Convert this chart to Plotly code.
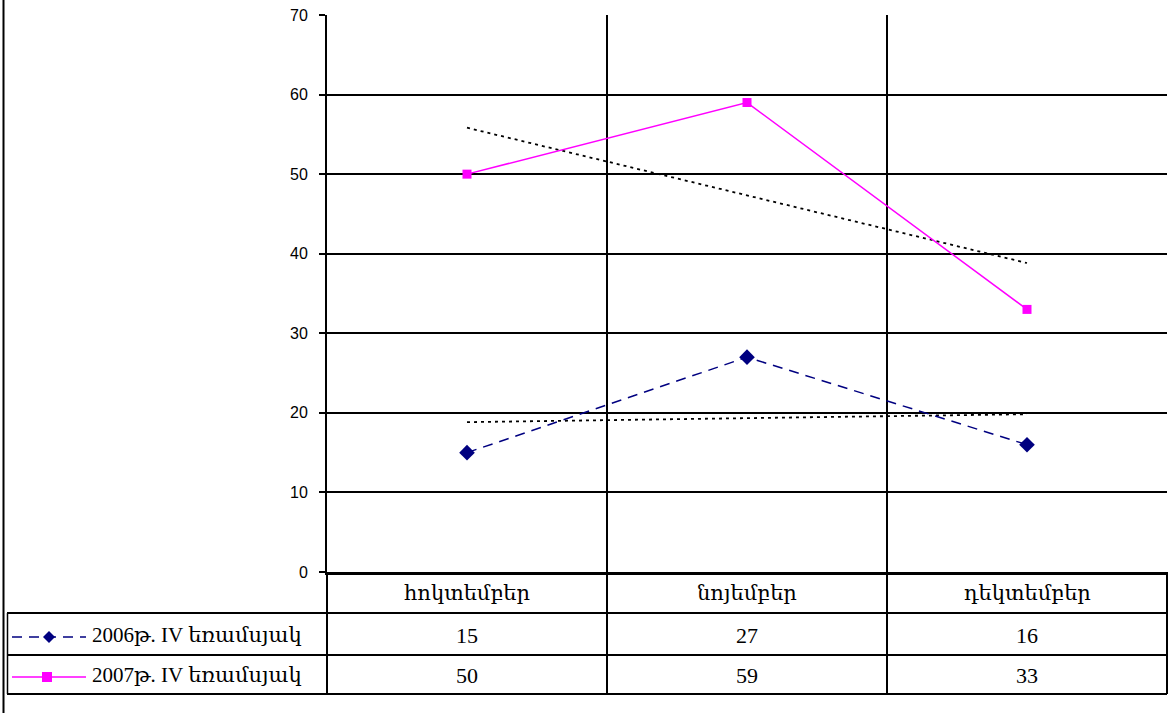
import numpy as np
import plotly.graph_objects as go

categories = ["հոկտեմբեր", "նոյեմբեր", "դեկտեմբեր"]
series_names = ["2006թ. IV եռամսյակ", "2007թ. IV եռամսյակ"]
values_2006 = [15, 27, 16]
values_2007 = [50, 59, 33]
y_ticks = [0, 10, 20, 30, 40, 50, 60, 70]

W, H = 1176, 713
def px(x): return x / W
def py(y): return 1 - y / H

X0, X1, Y0, Y1 = 327, 1167, 15, 572
xs = list(range(len(categories)))

fig = go.Figure()

# trend lines (linear fits of each series)
for vals in (values_2006, values_2007):
    k, b = np.polyfit(xs, vals, 1)
    fig.add_trace(go.Scatter(x=xs, y=[k * x + b for x in xs], mode="lines",
                             line=dict(color="black", width=1.8, dash="3px,4px"),
                             showlegend=False, hoverinfo="skip"))

fig.add_trace(go.Scatter(x=xs, y=values_2006, mode="lines+markers", name=series_names[0],
                         line=dict(color="#000080", width=1.5, dash="10px,7px"),
                         marker=dict(symbol="diamond", size=12, color="#000080"),
                         showlegend=False))
fig.add_trace(go.Scatter(x=xs, y=values_2007, mode="lines+markers", name=series_names[1],
                         line=dict(color="#FF00FF", width=1.5),
                         marker=dict(symbol="square", size=9, color="#FF00FF"),
                         showlegend=False))

fig.update_layout(
    width=W, height=H, margin=dict(l=0, r=0, t=0, b=0, autoexpand=False),
    paper_bgcolor="white", plot_bgcolor="white", showlegend=False,
    xaxis=dict(domain=[px(X0), px(X1)], range=[-0.5, len(categories) - 0.5],
               tickvals=[i - 0.5 for i in range(len(categories) + 1)],
               showticklabels=False, ticks="", showgrid=True, gridcolor="black",
               gridwidth=1.5, zeroline=False, showline=True, linecolor="black",
               linewidth=2.5, automargin=False),
    yaxis=dict(domain=[py(Y1), py(Y0)], range=[0, 70], tickvals=y_ticks,
               ticks="outside", ticklen=6, tickcolor="black", tickwidth=1.5,
               ticklabelstandoff=8, automargin=False,
               showgrid=True, gridcolor="black", gridwidth=1.5, zeroline=False,
               showline=True, linecolor="black", linewidth=2,
               tickfont=dict(family="Liberation Sans, Arial", size=16, color="black")),
)

shapes = []
def hline(x0, x1, y, w=2):
    shapes.append(dict(type="line", xref="paper", yref="paper", x0=px(x0), x1=px(x1),
                       y0=py(y), y1=py(y), line=dict(color="black", width=w)))
def vline(x, y0, y1, w=2):
    shapes.append(dict(type="line", xref="paper", yref="paper", x0=px(x), x1=px(x),
                       y0=py(y0), y1=py(y1), line=dict(color="black", width=w)))

# outer border of chart area
vline(3.5, 0, H, 2)
# data table
for y in (613, 655, 694):
    hline(7, X1, y, 2)
vline(7.5, 613, 694, 1.5)
for x in (X0, 607, 887, X1):
    vline(x, Y1, 694, 2)

# legend keys
ry = [635, 675]
ky = [637, 677]
shapes.append(dict(type="line", xref="paper", yref="paper", x0=px(12), x1=px(86),
                   y0=py(ky[0]), y1=py(ky[0]),
                   line=dict(color="#000080", width=1.5, dash="10px,7px")))
shapes.append(dict(type="path", xref="paper", yref="paper",
                   path=f"M {px(43)},{py(ky[0])} L {px(49)},{py(ky[0]-6)} L {px(55)},{py(ky[0])} L {px(49)},{py(ky[0]+6)} Z",
                   fillcolor="#000080", line=dict(width=0)))
shapes.append(dict(type="line", xref="paper", yref="paper", x0=px(12), x1=px(86),
                   y0=py(ky[1]), y1=py(ky[1]), line=dict(color="#FF00FF", width=1.5)))
shapes.append(dict(type="rect", xref="paper", yref="paper", x0=px(42), x1=px(52),
                   y0=py(ky[1] - 5), y1=py(ky[1] + 5), fillcolor="#FF00FF",
                   line=dict(width=0)))
fig.update_layout(shapes=shapes)

serif = "Liberation Serif, DejaVu Serif, serif"
ann = []
for i, c in enumerate(categories):
    ann.append(dict(x=i, xref="x", y=py(593), yref="paper", yanchor="middle", text=c,
                    showarrow=False, font=dict(family=serif, size=21, color="black")))
    for r, vals in enumerate((values_2006, values_2007)):
        ann.append(dict(x=i, xref="x", y=py(ry[r]), yref="paper", yanchor="middle",
                        text=str(vals[i]), showarrow=False,
                        font=dict(family=serif, size=22, color="black")))
for r, n in enumerate(series_names):
    ann.append(dict(x=px(90), xref="paper", y=py(ry[r]), yref="paper", yanchor="middle",
                    text=n, showarrow=False, xanchor="left",
                    font=dict(family=serif, size=21, color="black")))
fig.update_layout(annotations=ann)

fig.write_html("out.html", config={"displayModeBar": False},
               post_script="document.body.style.margin='0px';")
